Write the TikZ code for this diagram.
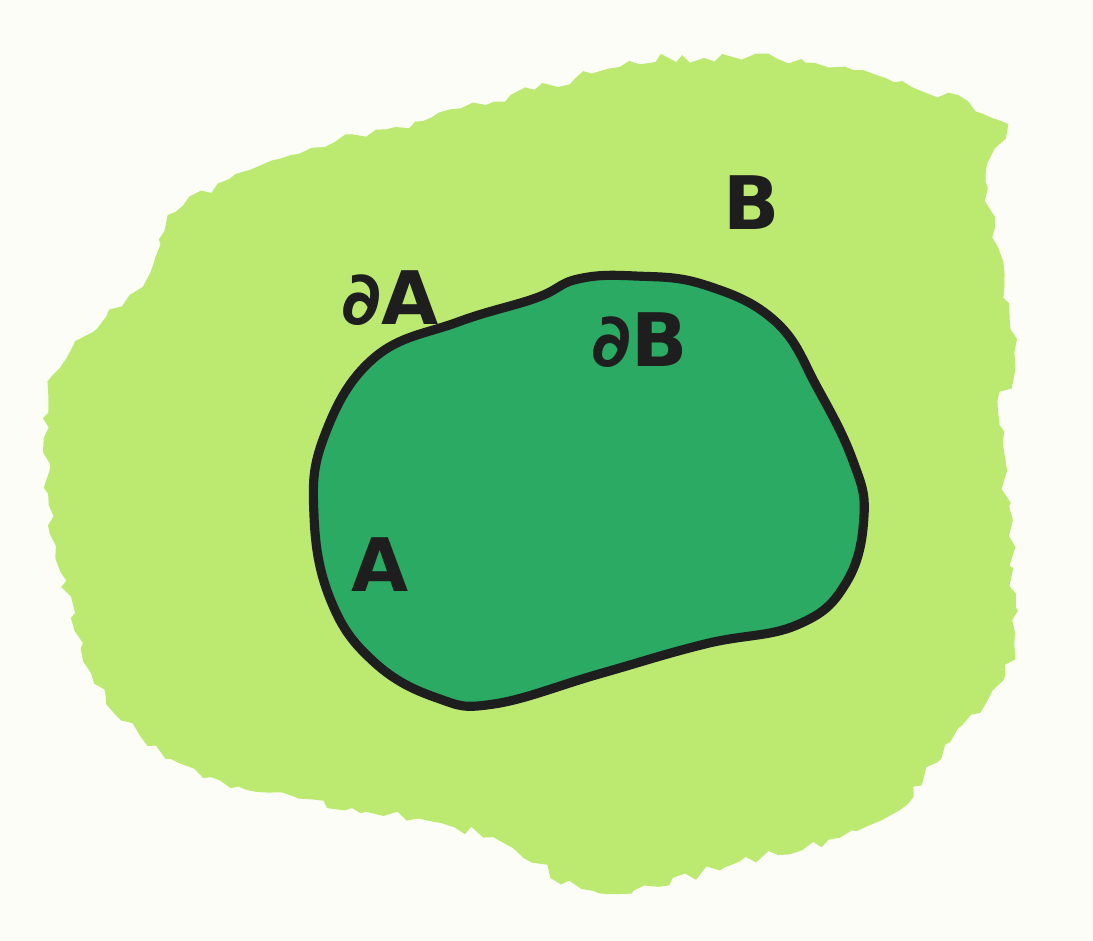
\documentclass[tikz,border=0pt]{standalone}
\usepackage{fontspec}
\setmainfont{DejaVu Sans}
\usepackage{tikz}
\usetikzlibrary{decorations.pathmorphing, positioning}
\usepackage{xcolor}
\definecolor{paper}{RGB}{252,253,246}
\definecolor{limegreen}{RGB}{188,234,112}
\definecolor{blobgreen}{RGB}{42,170,98}
\definecolor{inkblack}{RGB}{30,30,30}

\tikzset{
    setlabel/.style={text=inkblack, font=\fontsize{21}{24}\selectfont\bfseries, inner sep=1pt}
}

\begin{document}
\begin{tikzpicture}
    % Paper
    \fill[paper] (0,0) rectangle (10.93,9.41);
    \useasboundingbox (0,0) rectangle (10.93,9.41);

    % Outer region B (crayon patch)
    \pgfmathsetseed{7}
    \fill[limegreen, decorate, decoration={random steps, segment length=3pt, amplitude=1.4pt}]
        plot[smooth cycle, tension=0.6] coordinates {
            (1.83,7.35) (3.03,7.89) (4.23,8.20) (6.20,8.74) (7.04,8.83) (8.45,8.74)
            (10.00,8.20) (9.86,7.59) (10.14,5.89) (10.00,5.16) (10.14,2.97) (9.58,2.12)
            (8.80,1.21) (7.39,0.79) (5.99,0.48) (4.93,1.03) (3.52,1.33) (2.11,1.64)
            (1.06,2.43) (0.56,3.95) (0.49,5.46) (1.06,6.25) (1.41,6.56)};

    % Inner region A with its boundary
    \filldraw[fill=blobgreen, draw=inkblack, line width=2.6pt]
        plot[smooth cycle, tension=0.7] coordinates {
            (5.78,6.62) (6.35,6.65) (7.05,6.56) (7.76,6.19) (8.18,5.52) (8.53,4.80)
            (8.64,4.25) (8.46,3.58) (7.97,3.16) (7.05,2.97) (5.99,2.67) (4.94,2.37)
            (4.37,2.43) (3.74,2.79) (3.31,3.40) (3.14,4.25) (3.24,5.04) (3.74,5.83)
            (4.58,6.19) (5.36,6.43)};

    % Labels
    \node[setlabel] (b) at (7.52,7.38) {B};
    \node[setlabel] (dA) at (3.90,6.43) {∂A};
    \node[setlabel] (dB) at (6.40,6.01) {∂B};
    \node[setlabel] (a) at (3.80,3.76) {A};
\end{tikzpicture}
\end{document}
